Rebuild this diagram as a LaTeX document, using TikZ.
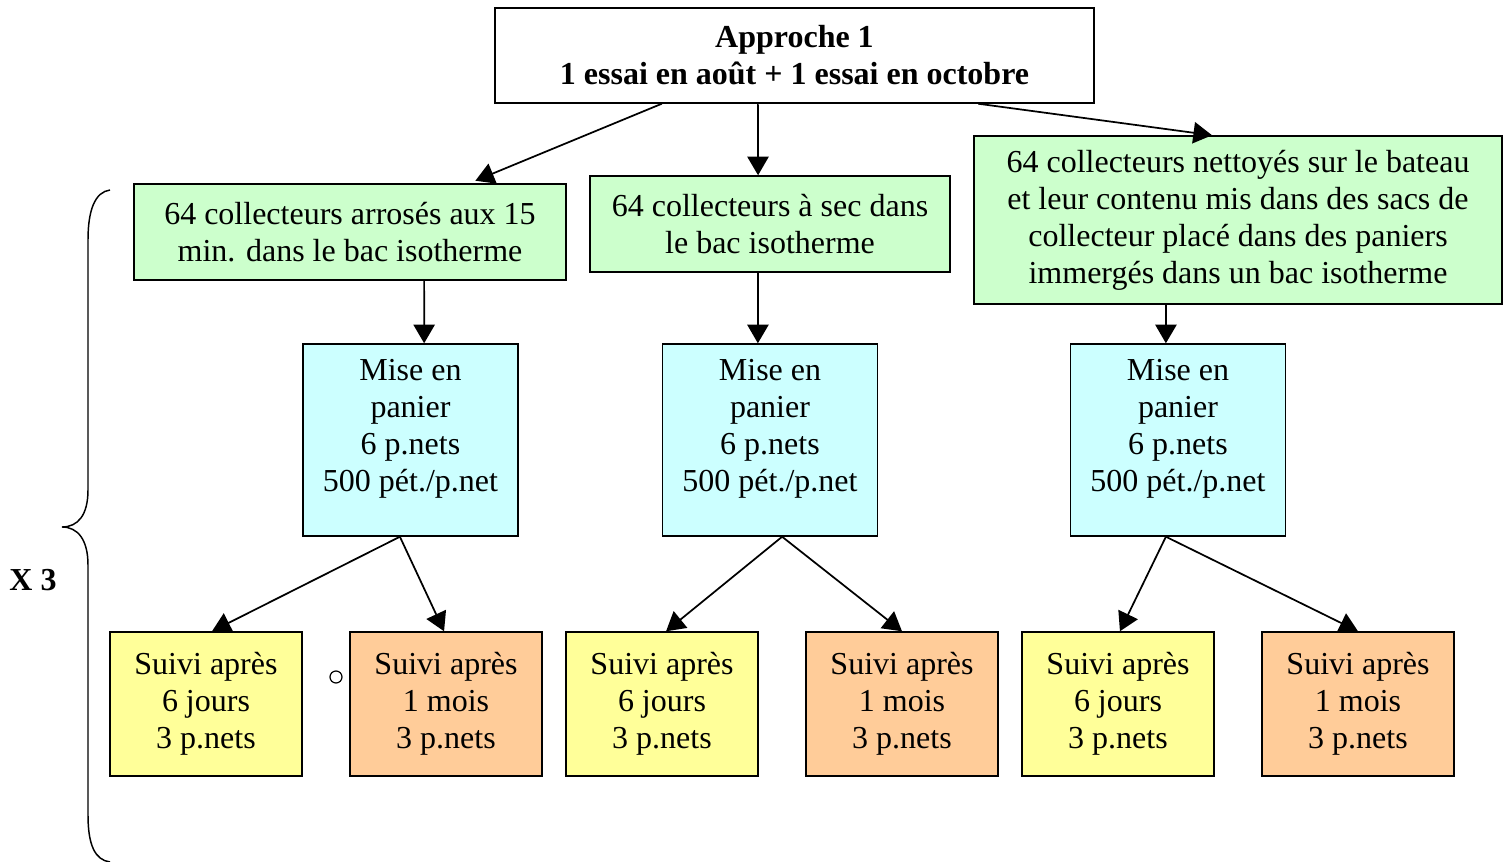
\documentclass[tikz,border=0pt]{standalone}
\usepackage{fontspec}
\setmainfont{Liberation Serif}
\usetikzlibrary{arrows.meta,calc}
\definecolor{gfill}{HTML}{CCFFCC}
\definecolor{cfill}{HTML}{CCFFFF}
\definecolor{yfill}{HTML}{FFFF99}
\definecolor{ofill}{HTML}{FFCC99}
\newcommand{\lowstrut}{\rule[-22.4pt]{0pt}{1pt}}
\begin{document}
\begin{tikzpicture}[x=0.75pt,y=-0.75pt,
  box/.style={draw, line width=1.1pt, inner sep=0pt, align=center,
    font=\fontsize{24}{27.75}\selectfont},
  gbox/.style={box, fill=gfill},
  cbox/.style={box, fill=cfill, minimum width=161.25pt, minimum height=144pt},
  ybox/.style={box, fill=yfill, minimum width=144pt, minimum height=108pt},
  obox/.style={box, fill=ofill, minimum width=144pt, minimum height=108pt},
  arr/.style={line width=1.3pt, -{Triangle[length=14pt,width=16pt]}},
  brace/.style={line width=1.1pt}]
\useasboundingbox (0,0) rectangle (1509,862);

\node[box, fill=white, minimum width=449.25pt, minimum height=71.25pt,
  font=\fontsize{24}{27.75}\selectfont\bfseries] (top) at (794.5,55.5)
  {Approche 1\\1 essai en août + 1 essai en octobre};

\node[gbox, minimum width=324pt, minimum height=72pt] (g1) at (350,232)
  {64 collecteurs arrosés aux 15\\min. dans le bac isotherme};
\node[gbox, minimum width=270pt, minimum height=72pt] (g2) at (770,224)
  {64 collecteurs à sec dans\\le bac isotherme};
\node[gbox, minimum width=396pt, minimum height=126pt] (g3) at (1238,220)
  {64 collecteurs nettoyés sur le bateau\\et leur contenu mis dans des sacs de\\collecteur placé dans des paniers\\immergés dans un bac isotherme};

\node[cbox] (c1) at (410.5,440) {Mise en\\panier\\6 p.nets\\500 pét./p.net\lowstrut};
\node[cbox] (c2) at (770,440) {Mise en\\panier\\6 p.nets\\500 pét./p.net\lowstrut};
\node[cbox] (c3) at (1178,440) {Mise en\\panier\\6 p.nets\\500 pét./p.net\lowstrut};

\node[ybox] (y1) at (206,704) {Suivi après\\6 jours\\3 p.nets};
\node[obox] (o1) at (446,704) {Suivi après\\1 mois\\3 p.nets};
\node[ybox] (y2) at (662,704) {Suivi après\\6 jours\\3 p.nets};
\node[obox] (o2) at (902,704) {Suivi après\\1 mois\\3 p.nets};
\node[ybox] (y3) at (1118,704) {Suivi après\\6 jours\\3 p.nets};
\node[obox] (o3) at (1358,704) {Suivi après\\1 mois\\3 p.nets};

\draw[arr, shorten >=5pt] ($(top.south west)!0.279!(top.south east)$) -- ($(g1.north west)!0.775!(g1.north east)$);
\draw[arr] ($(top.south west)!0.439!(top.south east)$) -- ($(g2.north west)!0.467!(g2.north east)$);
\draw[arr] ($(top.south west)!0.806!(top.south east)$) -- ($(g3.north west)!0.451!(g3.north east)$);

\draw[arr] ($(g1.south west)!0.671!(g1.south east)$) -- ($(c1.north west)!0.563!(c1.north east)$);
\draw[arr] ($(g2.south west)!0.467!(g2.south east)$) -- ($(c2.north west)!0.444!(c2.north east)$);
\draw[arr] ($(g3.south west)!0.364!(g3.south east)$) -- ($(c3.north west)!0.444!(c3.north east)$);

\draw[arr] ($(c1.south west)!0.451!(c1.south east)$) -- ($(y1.north west)!0.531!(y1.north east)$);
\draw[arr] ($(c1.south west)!0.451!(c1.south east)$) -- ($(o1.north west)!0.49!(o1.north east)$);
\draw[arr] ($(c2.south west)!0.556!(c2.south east)$) -- ($(y2.north west)!0.521!(y2.north east)$);
\draw[arr] ($(c2.south west)!0.556!(c2.south east)$) -- ($(o2.north west)!0.5!(o2.north east)$);
\draw[arr] ($(c3.south west)!0.444!(c3.south east)$) -- ($(y3.north west)!0.51!(y3.north east)$);
\draw[arr] ($(c3.south west)!0.444!(c3.south east)$) -- ($(o3.north west)!0.5!(o3.north east)$);

\node[circle, draw, line width=0.9pt, minimum size=9pt, inner sep=0pt] (dot) at (336,677) {};

\draw[brace] (110,190) .. controls (95,192) and (88,210) .. (88,240) -- (88,490)
  .. controls (88,515) and (78,527) .. (62,527)
  .. controls (78,527) and (88,540) .. (88,565) -- (88,815)
  .. controls (88,845) and (95,860) .. (110,862);
\node[font=\fontsize{24}{27.75}\selectfont\bfseries] (x3) at (33,580) {X 3};
\end{tikzpicture}
\end{document}
